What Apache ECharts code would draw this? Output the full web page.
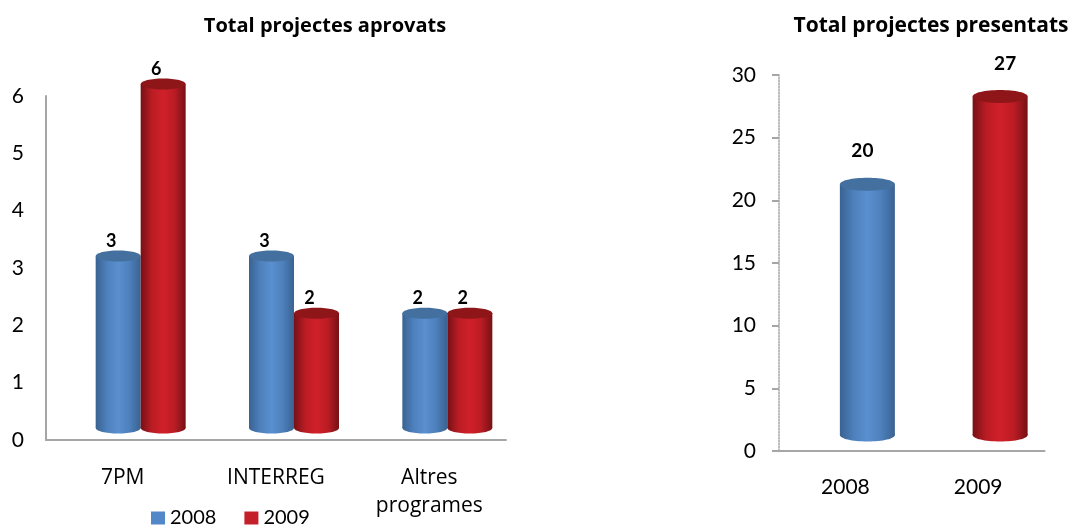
<!DOCTYPE html>
<html>
<head>
<meta charset="utf-8">
<script src="https://cdn.jsdelivr.net/npm/echarts@6/dist/echarts.min.js"></script>
<style>html,body{margin:0;padding:0;background:#fff}#c{width:1071px;height:525px}</style>
</head>
<body>
<div id="c"></div>
<script>
const programCategories = ['7PM', 'INTERREG', 'Altres\nprogrames'];
const approved2008 = [3, 3, 2];
const approved2009 = [6, 2, 2];
const yearCategories = ['2008', '2009'];
const presentedTotals = [20, 27];
const titleApproved = 'Total projectes aprovats';
const titlePresented = 'Total projectes presentats';

const FONT = '"Open Sans", "Noto Sans", sans-serif';
const NUM = 'Lato, "Open Sans", sans-serif';
const palette = {
  blue:  { edge: '#3a6291', near: '#4d80bc', mid: '#5a90cf', top: '#44709f', legend: '#5288c8' },
  red:   { edge: '#751115', near: '#bb1c24', mid: '#d0202a', top: '#8e1619', legend: '#c4202a' }
};

function cylinder(col, o) {
  return function (params, api) {
    const i = params.dataIndex;
    const p = api.coord([api.value(0), api.value(1)]);
    const base = api.coord([api.value(0), 0]);
    const w = o.barWidth;
    const c = o.colors ? o.colors[i] : col;
    const cx = p[0] + o.dx + (o.group || 0) * w / 2;
    const top = p[1] - o.dy, bottom = base[1] - o.dy;
    const grad = {
      type: 'linear', x: 0, y: 0, x2: 1, y2: 0,
      colorStops: [
        { offset: 0, color: c.edge }, { offset: 0.25, color: c.near }, { offset: 0.5, color: c.mid },
        { offset: 0.75, color: c.near }, { offset: 1, color: c.edge }
      ]
    };
    const lx = cx + (o.labelDx ? o.labelDx[i] : o.labelShift);
    return {
      type: 'group',
      children: [
        { type: 'ellipse', shape: { cx: cx, cy: bottom, rx: w / 2, ry: o.ry }, style: { fill: grad } },
        { type: 'rect', shape: { x: cx - w / 2, y: top, width: w, height: bottom - top }, style: { fill: grad } },
        { type: 'ellipse', shape: { cx: cx, cy: top, rx: w / 2, ry: o.ry }, style: { fill: c.top } },
        { type: 'text', x: lx, y: top - o.labelGap, style: {
            text: String(api.value(1)), fill: '#000', font: 'bold ' + o.labelSize + 'px ' + NUM,
            textAlign: 'center', textVerticalAlign: 'middle' } }
      ]
    };
  };
}

const leftOpts = { barWidth: 45, dx: 18, dy: 12, ry: 5.5, labelShift: -7, labelGap: 15, labelSize: 18 };
const rightOpts = { barWidth: 55, dx: 22, dy: 16, ry: 6.5, labelDx: [-5, 5], labelGap: 33, labelSize: 19,
                    colors: [palette.blue, palette.red] };
const axisGray = '#a6a6a6';

const option = {
  animation: false,
  backgroundColor: '#fff',
  title: [
    { text: titleApproved, left: 320, top: 11, textAlign: 'center',
      textStyle: { fontFamily: FONT, fontSize: 20, fontWeight: 'bold', color: '#000' } },
    { text: titlePresented, left: 926, top: 11, textAlign: 'center',
      textStyle: { fontFamily: FONT, fontSize: 21, fontWeight: 'bold', color: '#000' } }
  ],
  legend: {
    data: ['2008', '2009'], left: 151, top: 508, itemWidth: 14, itemHeight: 13, itemGap: 28,
    icon: 'rect', padding: 0,
    textStyle: { fontFamily: NUM, fontSize: 20, color: '#000', padding: [3, 0, 0, 0] }
  },
  grid: [
    { left: 46, top: 96, width: 460, height: 344 },
    { left: 779, top: 75, width: 265.5, height: 376 }
  ],
  xAxis: [
    { type: 'category', gridIndex: 0, data: programCategories,
      axisLine: { lineStyle: { color: axisGray, width: 2 } }, axisTick: { show: false },
      axisLabel: { color: '#000', fontFamily: FONT, fontSize: 21, margin: 24, lineHeight: 28, interval: 0 } },
    { type: 'category', gridIndex: 1, data: yearCategories,
      axisLine: { lineStyle: { color: axisGray, width: 2 } },
      axisTick: { length: 7, lineStyle: { color: axisGray, width: 2 } },
      axisLabel: { color: '#000', fontFamily: NUM, fontSize: 21, margin: 26 } }
  ],
  yAxis: [
    { type: 'value', gridIndex: 0, min: 0, max: 6, interval: 1, splitLine: { show: false },
      axisLine: { show: true, lineStyle: { color: axisGray, width: 2 } }, axisTick: { show: false },
      axisLabel: { color: '#000', fontFamily: NUM, fontSize: 21, margin: 22 } },
    { type: 'value', gridIndex: 1, min: 0, max: 30, interval: 5, splitLine: { show: false },
      axisLine: { show: true, lineStyle: { color: axisGray, width: 1.5, type: [1.5, 1.5] } },
      axisTick: { show: true, length: 7, lineStyle: { color: axisGray, width: 2 } },
      axisLabel: { color: '#000', fontFamily: NUM, fontSize: 21, margin: 23 } }
  ],
  series: [
    { name: '2008', type: 'custom', xAxisIndex: 0, yAxisIndex: 0, clip: false,
      itemStyle: { color: palette.blue.legend }, encode: { x: 0, y: 1 },
      renderItem: cylinder(palette.blue, Object.assign({ group: -1 }, leftOpts)),
      data: programCategories.map((c, i) => [c, approved2008[i]]) },
    { name: '2009', type: 'custom', xAxisIndex: 0, yAxisIndex: 0, clip: false,
      itemStyle: { color: palette.red.legend }, encode: { x: 0, y: 1 },
      renderItem: cylinder(palette.red, Object.assign({ group: 1 }, leftOpts)),
      data: programCategories.map((c, i) => [c, approved2009[i]]) },
    { name: titlePresented, type: 'custom', xAxisIndex: 1, yAxisIndex: 1, clip: false,
      encode: { x: 0, y: 1 },
      renderItem: cylinder(null, rightOpts),
      data: yearCategories.map((c, i) => [c, presentedTotals[i]]) }
  ]
};
echarts.init(document.getElementById('c'), null, { renderer: 'canvas' }).setOption(option);
</script>
</body>
</html>
